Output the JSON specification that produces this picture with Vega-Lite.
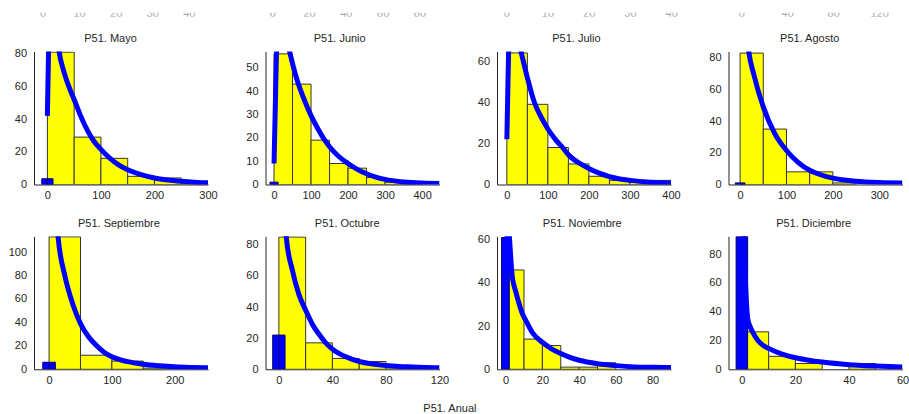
{
"$schema": "https://vega.github.io/schema/vega-lite/v6.json",
"background": "white",
"padding": {"left": 8, "top": 12.7, "right": 0, "bottom": 0},
"config": {
 "view": {"stroke": null},
 "font": "Liberation Sans",
 "axis": {"grid": false, "ticks": false, "tickSize": 0, "domainColor": "#262626", "domainWidth": 1, "labelColor": "#262626", "labelFont": "Liberation Sans", "labelFontSize": 11, "labelFlush": false, "labelOverlap": false},
 "axisX": {"labelPadding": 5.5},
 "axisY": {"labelPadding": 7.5},
 "title": {"font": "Liberation Sans", "fontSize": 11, "fontWeight": "normal", "color": "#262626", "frame": "group", "baseline": "alphabetic", "offset": 7}
},
"datasets": {
 "bars": [
  {"m":"Mayo","x0":0,"x1":50,"n":81},{"m":"Mayo","x0":50,"x1":100,"n":29},{"m":"Mayo","x0":100,"x1":150,"n":16},{"m":"Mayo","x0":150,"x1":200,"n":5},{"m":"Mayo","x0":200,"x1":250,"n":4},{"m":"Mayo","x0":250,"x1":300,"n":1},
  {"m":"Junio","x0":0,"x1":50,"n":56},{"m":"Junio","x0":50,"x1":100,"n":43},{"m":"Junio","x0":100,"x1":150,"n":19},{"m":"Junio","x0":150,"x1":200,"n":9},{"m":"Junio","x0":200,"x1":250,"n":7},{"m":"Junio","x0":250,"x1":300,"n":3},{"m":"Junio","x0":300,"x1":350,"n":1},{"m":"Junio","x0":350,"x1":400,"n":1},
  {"m":"Julio","x0":0,"x1":50,"n":64},{"m":"Julio","x0":50,"x1":100,"n":39},{"m":"Julio","x0":100,"x1":150,"n":18},{"m":"Julio","x0":150,"x1":200,"n":10},{"m":"Julio","x0":200,"x1":250,"n":4},{"m":"Julio","x0":250,"x1":300,"n":2},{"m":"Julio","x0":300,"x1":350,"n":1},{"m":"Julio","x0":350,"x1":400,"n":2},
  {"m":"Agosto","x0":0,"x1":50,"n":83},{"m":"Agosto","x0":50,"x1":100,"n":35},{"m":"Agosto","x0":100,"x1":150,"n":8},{"m":"Agosto","x0":150,"x1":200,"n":8},{"m":"Agosto","x0":200,"x1":250,"n":1},
  {"m":"Septiembre","x0":0,"x1":50,"n":113},{"m":"Septiembre","x0":50,"x1":100,"n":12},{"m":"Septiembre","x0":100,"x1":150,"n":7},{"m":"Septiembre","x0":150,"x1":200,"n":1},
  {"m":"Octubre","x0":0,"x1":20,"n":85},{"m":"Octubre","x0":20,"x1":40,"n":17},{"m":"Octubre","x0":40,"x1":60,"n":7},{"m":"Octubre","x0":60,"x1":80,"n":5},{"m":"Octubre","x0":80,"x1":100,"n":1},
  {"m":"Noviembre","x0":0,"x1":10,"n":46},{"m":"Noviembre","x0":10,"x1":20,"n":14},{"m":"Noviembre","x0":20,"x1":30,"n":11},{"m":"Noviembre","x0":30,"x1":40,"n":1},{"m":"Noviembre","x0":40,"x1":50,"n":1},{"m":"Noviembre","x0":50,"x1":60,"n":3},
  {"m":"Diciembre","x0":0,"x1":10,"n":26},{"m":"Diciembre","x0":10,"x1":20,"n":9},{"m":"Diciembre","x0":20,"x1":30,"n":4},{"m":"Diciembre","x0":40,"x1":50,"n":4}
 ],
 "zeros": [
  {"m":"Mayo","x0":-10.5,"x1":10.5,"xc":0,"n":3.5},
  {"m":"Junio","x0":-11,"x1":11,"xc":0,"n":1},
  {"m":"Agosto","x0":-10.5,"x1":10.5,"xc":0,"n":1},
  {"m":"Septiembre","x0":-10,"x1":10,"xc":0,"n":6},
  {"m":"Octubre","x0":-4.6,"x1":4.6,"xc":0,"n":22},
  {"m":"Noviembre","x0":-2.2,"x1":2,"xc":0,"n":61},
  {"m":"Diciembre","x0":-2.15,"x1":2.15,"xc":0,"n":92}
 ],
 "curve": [
  {"m":"Mayo","x0":0,"n":42},{"m":"Mayo","x0":1.5,"n":70},{"m":"Mayo","x0":3,"n":95},{"m":"Mayo","x0":6,"n":110},{"m":"Mayo","x0":12,"n":108},{"m":"Mayo","x0":18,"n":92},{"m":"Mayo","x0":22,"n":81},{"m":"Mayo","x0":30,"n":70},{"m":"Mayo","x0":40,"n":60},{"m":"Mayo","x0":50,"n":52},{"m":"Mayo","x0":62,"n":42},{"m":"Mayo","x0":75,"n":33},{"m":"Mayo","x0":87,"n":26.5},{"m":"Mayo","x0":100,"n":21.5},{"m":"Mayo","x0":117,"n":16},{"m":"Mayo","x0":133,"n":12},{"m":"Mayo","x0":150,"n":9},{"m":"Mayo","x0":175,"n":6},{"m":"Mayo","x0":200,"n":4},{"m":"Mayo","x0":225,"n":2.8},{"m":"Mayo","x0":250,"n":2},{"m":"Mayo","x0":275,"n":1.4},{"m":"Mayo","x0":300,"n":1},
  {"m":"Junio","x0":0,"n":9},{"m":"Junio","x0":3,"n":30},{"m":"Junio","x0":6,"n":52},{"m":"Junio","x0":9,"n":66},{"m":"Junio","x0":15,"n":75},{"m":"Junio","x0":25,"n":72},{"m":"Junio","x0":35,"n":62},{"m":"Junio","x0":42,"n":57},{"m":"Junio","x0":60,"n":46},{"m":"Junio","x0":80,"n":37},{"m":"Junio","x0":100,"n":29.5},{"m":"Junio","x0":120,"n":23.5},{"m":"Junio","x0":137,"n":19},{"m":"Junio","x0":150,"n":16.2},{"m":"Junio","x0":175,"n":12},{"m":"Junio","x0":200,"n":9},{"m":"Junio","x0":225,"n":6.5},{"m":"Junio","x0":250,"n":4.6},{"m":"Junio","x0":275,"n":3.2},{"m":"Junio","x0":300,"n":2.2},{"m":"Junio","x0":350,"n":1.1},{"m":"Junio","x0":400,"n":0.6},{"m":"Junio","x0":447,"n":0.4},
  {"m":"Julio","x0":0,"n":22},{"m":"Julio","x0":2,"n":42},{"m":"Julio","x0":4,"n":62},{"m":"Julio","x0":8,"n":75},{"m":"Julio","x0":15,"n":78},{"m":"Julio","x0":25,"n":72},{"m":"Julio","x0":34,"n":65},{"m":"Julio","x0":50,"n":52},{"m":"Julio","x0":67,"n":40},{"m":"Julio","x0":83,"n":33},{"m":"Julio","x0":100,"n":27},{"m":"Julio","x0":120,"n":21.5},{"m":"Julio","x0":136,"n":18},{"m":"Julio","x0":150,"n":14.5},{"m":"Julio","x0":180,"n":10},{"m":"Julio","x0":200,"n":7.8},{"m":"Julio","x0":225,"n":5.5},{"m":"Julio","x0":250,"n":3.8},{"m":"Julio","x0":275,"n":2.7},{"m":"Julio","x0":300,"n":2},{"m":"Julio","x0":350,"n":1.1},{"m":"Julio","x0":400,"n":0.7},
  {"m":"Agosto","x0":10,"n":110},{"m":"Agosto","x0":18.7,"n":84},{"m":"Agosto","x0":30,"n":69},{"m":"Agosto","x0":50,"n":49},{"m":"Agosto","x0":75,"n":32},{"m":"Agosto","x0":100,"n":21.5},{"m":"Agosto","x0":125,"n":14},{"m":"Agosto","x0":150,"n":9},{"m":"Agosto","x0":175,"n":6},{"m":"Agosto","x0":200,"n":4},{"m":"Agosto","x0":250,"n":2.1},{"m":"Agosto","x0":300,"n":1.3},{"m":"Agosto","x0":350,"n":1},
  {"m":"Septiembre","x0":8,"n":160},{"m":"Septiembre","x0":14.3,"n":113},{"m":"Septiembre","x0":25,"n":80},{"m":"Septiembre","x0":37.5,"n":56},{"m":"Septiembre","x0":50,"n":39},{"m":"Septiembre","x0":62.5,"n":28},{"m":"Septiembre","x0":75,"n":20.5},{"m":"Septiembre","x0":87.5,"n":14.5},{"m":"Septiembre","x0":100,"n":10.6},{"m":"Septiembre","x0":125,"n":6.5},{"m":"Septiembre","x0":150,"n":4.3},{"m":"Septiembre","x0":175,"n":3},{"m":"Septiembre","x0":200,"n":2.1},{"m":"Septiembre","x0":225,"n":1.6},{"m":"Septiembre","x0":253,"n":1.3},
  {"m":"Octubre","x0":3,"n":130},{"m":"Octubre","x0":5.5,"n":85},{"m":"Octubre","x0":10,"n":64},{"m":"Octubre","x0":15,"n":48},{"m":"Octubre","x0":20,"n":38},{"m":"Octubre","x0":25,"n":29},{"m":"Octubre","x0":30,"n":22.5},{"m":"Octubre","x0":35,"n":17},{"m":"Octubre","x0":40,"n":13},{"m":"Octubre","x0":50,"n":8},{"m":"Octubre","x0":60,"n":5},{"m":"Octubre","x0":70,"n":3.4},{"m":"Octubre","x0":80,"n":2.4},{"m":"Octubre","x0":90,"n":1.8},{"m":"Octubre","x0":100,"n":1.5},{"m":"Octubre","x0":110,"n":1.2},{"m":"Octubre","x0":120,"n":1},
  {"m":"Noviembre","x0":0.5,"n":45},{"m":"Noviembre","x0":1.2,"n":72},{"m":"Noviembre","x0":2,"n":62},{"m":"Noviembre","x0":3.6,"n":43},{"m":"Noviembre","x0":5.5,"n":36},{"m":"Noviembre","x0":7.3,"n":30.5},{"m":"Noviembre","x0":9,"n":26},{"m":"Noviembre","x0":10.9,"n":22.8},{"m":"Noviembre","x0":15,"n":16.5},{"m":"Noviembre","x0":20,"n":12.5},{"m":"Noviembre","x0":25,"n":9.5},{"m":"Noviembre","x0":30,"n":7.3},{"m":"Noviembre","x0":35,"n":5.5},{"m":"Noviembre","x0":40,"n":4.2},{"m":"Noviembre","x0":50,"n":2.6},{"m":"Noviembre","x0":60,"n":1.7},{"m":"Noviembre","x0":70,"n":1.1},{"m":"Noviembre","x0":80,"n":0.9},{"m":"Noviembre","x0":90,"n":0.8},
  {"m":"Diciembre","x0":0.3,"n":150},{"m":"Diciembre","x0":1,"n":80},{"m":"Diciembre","x0":1.6,"n":50},{"m":"Diciembre","x0":2.2,"n":35},{"m":"Diciembre","x0":3,"n":30},{"m":"Diciembre","x0":4,"n":26},{"m":"Diciembre","x0":6,"n":20},{"m":"Diciembre","x0":8,"n":16.5},{"m":"Diciembre","x0":10,"n":14.5},{"m":"Diciembre","x0":15,"n":10.5},{"m":"Diciembre","x0":20,"n":8},{"m":"Diciembre","x0":25,"n":6.3},{"m":"Diciembre","x0":30,"n":5},{"m":"Diciembre","x0":40,"n":3.2},{"m":"Diciembre","x0":50,"n":2.2},{"m":"Diciembre","x0":60,"n":1.5}
 ],
 "top": [
  {"c":1,"v":0},{"c":1,"v":10},{"c":1,"v":20},{"c":1,"v":30},{"c":1,"v":40},
  {"c":2,"v":0},{"c":2,"v":20},{"c":2,"v":40},{"c":2,"v":60},{"c":2,"v":80},
  {"c":3,"v":0},{"c":3,"v":10},{"c":3,"v":20},{"c":3,"v":30},{"c":3,"v":40},
  {"c":4,"v":0},{"c":4,"v":40},{"c":4,"v":80},{"c":4,"v":120}
 ]
},
"spacing": 15.8,
"vconcat": [
 {"hconcat": [
  {"width": 185, "height": 4, "data": {"name": "top"}, "transform": [{"filter": "datum.c == 1"}], "mark": {"type": "text", "clip": true, "baseline": "alphabetic", "fontSize": 11, "font": "Liberation Sans", "color": "#aaaaaa"}, "encoding": {"x": {"field": "v", "type": "quantitative", "scale": {"domain": [-2.46, 48.1], "nice": false, "zero": false}, "axis": null}, "y": {"datum": 0, "type": "quantitative", "scale": {"domain": [0, 1]}, "axis": null}, "text": {"field": "v", "type": "quantitative"}}},
  {"width": 185, "height": 4, "data": {"name": "top"}, "transform": [{"filter": "datum.c == 2"}], "mark": {"type": "text", "clip": true, "baseline": "alphabetic", "fontSize": 11, "font": "Liberation Sans", "color": "#aaaaaa"}, "encoding": {"x": {"field": "v", "type": "quantitative", "scale": {"domain": [-3.9, 96.6], "nice": false, "zero": false}, "axis": null}, "y": {"datum": 0, "type": "quantitative", "scale": {"domain": [0, 1]}, "axis": null}, "text": {"field": "v", "type": "quantitative"}}},
  {"width": 185, "height": 4, "data": {"name": "top"}, "transform": [{"filter": "datum.c == 3"}], "mark": {"type": "text", "clip": true, "baseline": "alphabetic", "fontSize": 11, "font": "Liberation Sans", "color": "#aaaaaa"}, "encoding": {"x": {"field": "v", "type": "quantitative", "scale": {"domain": [-2.35, 42.5], "nice": false, "zero": false}, "axis": null}, "y": {"datum": 0, "type": "quantitative", "scale": {"domain": [0, 1]}, "axis": null}, "text": {"field": "v", "type": "quantitative"}}},
  {"width": 174, "height": 4, "data": {"name": "top"}, "transform": [{"filter": "datum.c == 4"}], "mark": {"type": "text", "clip": true, "baseline": "alphabetic", "fontSize": 11, "font": "Liberation Sans", "color": "#aaaaaa"}, "encoding": {"x": {"field": "v", "type": "quantitative", "scale": {"domain": [-11.5, 139.8], "nice": false, "zero": false}, "axis": null}, "y": {"datum": 0, "type": "quantitative", "scale": {"domain": [0, 1]}, "axis": null}, "text": {"field": "v", "type": "quantitative"}}}
 ], "spacing": 46.5, "bounds": "flush"},
 {"vconcat": [
  {"hconcat": [
   {"width": 174, "height": 133, "title": {"text": "P51. Mayo", "dx": -10.5, "offset": 3.8},
    "encoding": {"x": {"field": "x0", "type": "quantitative", "scale": {"domain": [-25, 300], "nice": false, "zero": false}, "axis": {"values": [0,100,200,300], "title": null}}, "y": {"field": "n", "type": "quantitative", "scale": {"domain": [0, 81.4], "nice": false, "zero": false}, "axis": {"values": [0,20,40,60,80], "title": null}}},
    "layer": [
     {"data": {"name": "bars"}, "transform": [{"filter": "datum.m == 'Mayo'"}], "mark": {"type": "rect", "fill": "#ffff00", "stroke": "#333333", "strokeWidth": 1, "clip": true}, "encoding": {"x2": {"field": "x1"}, "y2": {"datum": 0}}},
     {"data": {"name": "zeros"}, "transform": [{"filter": "datum.m == 'Mayo'"}], "mark": {"type": "rect", "fill": "#0000ff", "stroke": "#00006a", "strokeWidth": 1, "clip": true}, "encoding": {"x2": {"field": "x1"}, "y2": {"datum": 0}}},
     {"data": {"name": "zeros"}, "transform": [{"filter": "datum.m == 'Mayo'"}], "mark": {"type": "rule", "color": "#00006a", "clip": true}, "encoding": {"x": {"field": "xc", "type": "quantitative", "axis": {"values": [0,100,200,300], "title": null}}, "y2": {"datum": 0}}},
     {"data": {"name": "curve"}, "transform": [{"filter": "datum.m == 'Mayo'"}], "mark": {"type": "line", "color": "#0000ff", "strokeWidth": 5, "interpolate": "monotone", "clip": true}, "encoding": {}}
    ]},
   {"width": 174, "height": 133, "title": {"text": "P51. Junio", "dx": -12.8},
    "encoding": {"x": {"field": "x0", "type": "quantitative", "scale": {"domain": [-23, 447], "nice": false, "zero": false}, "axis": {"values": [0,100,200,300,400], "title": null}}, "y": {"field": "n", "type": "quantitative", "scale": {"domain": [0, 57], "nice": false, "zero": false}, "axis": {"values": [0,10,20,30,40,50], "title": null}}},
    "layer": [
     {"data": {"name": "bars"}, "transform": [{"filter": "datum.m == 'Junio'"}], "mark": {"type": "rect", "fill": "#ffff00", "stroke": "#333333", "strokeWidth": 1, "clip": true}, "encoding": {"x2": {"field": "x1"}, "y2": {"datum": 0}}},
     {"data": {"name": "zeros"}, "transform": [{"filter": "datum.m == 'Junio'"}], "mark": {"type": "rect", "fill": "#0000ff", "stroke": "#00006a", "strokeWidth": 1, "clip": true}, "encoding": {"x2": {"field": "x1"}, "y2": {"datum": 0}}},
     {"data": {"name": "curve"}, "transform": [{"filter": "datum.m == 'Junio'"}], "mark": {"type": "line", "color": "#0000ff", "strokeWidth": 5, "interpolate": "monotone", "clip": true}, "encoding": {}}
    ]},
   {"width": 174, "height": 133, "title": {"text": "P51. Julio", "dx": -7.6},
    "encoding": {"x": {"field": "x0", "type": "quantitative", "scale": {"domain": [-24, 400], "nice": false, "zero": false}, "axis": {"values": [0,100,200,300,400], "title": null}}, "y": {"field": "n", "type": "quantitative", "scale": {"domain": [0, 64.7], "nice": false, "zero": false}, "axis": {"values": [0,20,40,60], "title": null}}},
    "layer": [
     {"data": {"name": "bars"}, "transform": [{"filter": "datum.m == 'Julio'"}], "mark": {"type": "rect", "fill": "#ffff00", "stroke": "#333333", "strokeWidth": 1, "clip": true}, "encoding": {"x2": {"field": "x1"}, "y2": {"datum": 0}}},
     {"data": {"name": "curve"}, "transform": [{"filter": "datum.m == 'Julio'"}], "mark": {"type": "line", "color": "#0000ff", "strokeWidth": 5, "interpolate": "monotone", "clip": true}, "encoding": {}}
    ]},
   {"width": 174, "height": 133, "title": {"text": "P51. Agosto", "dx": -5.8},
    "encoding": {"x": {"field": "x0", "type": "quantitative", "scale": {"domain": [-25, 350], "nice": false, "zero": false}, "axis": {"values": [0,100,200,300], "title": null}}, "y": {"field": "n", "type": "quantitative", "scale": {"domain": [0, 84], "nice": false, "zero": false}, "axis": {"values": [0,20,40,60,80], "title": null}}},
    "layer": [
     {"data": {"name": "bars"}, "transform": [{"filter": "datum.m == 'Agosto'"}], "mark": {"type": "rect", "fill": "#ffff00", "stroke": "#333333", "strokeWidth": 1, "clip": true}, "encoding": {"x2": {"field": "x1"}, "y2": {"datum": 0}}},
     {"data": {"name": "zeros"}, "transform": [{"filter": "datum.m == 'Agosto'"}], "mark": {"type": "rect", "fill": "#0000ff", "stroke": "#00006a", "strokeWidth": 1, "clip": true}, "encoding": {"x2": {"field": "x1"}, "y2": {"datum": 0}}},
     {"data": {"name": "curve"}, "transform": [{"filter": "datum.m == 'Agosto'"}], "mark": {"type": "line", "color": "#0000ff", "strokeWidth": 5, "interpolate": "monotone", "clip": true}, "encoding": {}}
    ]}
  ], "spacing": 57.5, "bounds": "flush"},
  {"hconcat": [
   {"width": 174, "height": 133, "title": {"text": "P51. Septiembre", "dx": -2.1},
    "encoding": {"x": {"field": "x0", "type": "quantitative", "scale": {"domain": [-24, 253], "nice": false, "zero": false}, "axis": {"values": [0,100,200], "title": null}}, "y": {"field": "n", "type": "quantitative", "scale": {"domain": [0, 113.5], "nice": false, "zero": false}, "axis": {"values": [0,20,40,60,80,100], "title": null}}},
    "layer": [
     {"data": {"name": "bars"}, "transform": [{"filter": "datum.m == 'Septiembre'"}], "mark": {"type": "rect", "fill": "#ffff00", "stroke": "#333333", "strokeWidth": 1, "clip": true}, "encoding": {"x2": {"field": "x1"}, "y2": {"datum": 0}}},
     {"data": {"name": "zeros"}, "transform": [{"filter": "datum.m == 'Septiembre'"}], "mark": {"type": "rect", "fill": "#0000ff", "stroke": "#00006a", "strokeWidth": 1, "clip": true}, "encoding": {"x2": {"field": "x1"}, "y2": {"datum": 0}}},
     {"data": {"name": "zeros"}, "transform": [{"filter": "datum.m == 'Septiembre'"}], "mark": {"type": "rule", "color": "#00006a", "clip": true}, "encoding": {"x": {"field": "xc", "type": "quantitative", "axis": {"values": [0,100,200], "title": null}}, "y2": {"datum": 0}}},
     {"data": {"name": "curve"}, "transform": [{"filter": "datum.m == 'Septiembre'"}], "mark": {"type": "line", "color": "#0000ff", "strokeWidth": 5, "interpolate": "monotone", "clip": true}, "encoding": {}}
    ]},
   {"width": 174, "height": 133, "title": {"text": "P51. Octubre", "dx": -5.3},
    "encoding": {"x": {"field": "x0", "type": "quantitative", "scale": {"domain": [-10, 120], "nice": false, "zero": false}, "axis": {"values": [0,40,80,120], "title": null}}, "y": {"field": "n", "type": "quantitative", "scale": {"domain": [0, 85.5], "nice": false, "zero": false}, "axis": {"values": [0,20,40,60,80], "title": null}}},
    "layer": [
     {"data": {"name": "bars"}, "transform": [{"filter": "datum.m == 'Octubre'"}], "mark": {"type": "rect", "fill": "#ffff00", "stroke": "#333333", "strokeWidth": 1, "clip": true}, "encoding": {"x2": {"field": "x1"}, "y2": {"datum": 0}}},
     {"data": {"name": "zeros"}, "transform": [{"filter": "datum.m == 'Octubre'"}], "mark": {"type": "rect", "fill": "#0000ff", "stroke": "#00006a", "strokeWidth": 1, "clip": true}, "encoding": {"x2": {"field": "x1"}, "y2": {"datum": 0}}},
     {"data": {"name": "zeros"}, "transform": [{"filter": "datum.m == 'Octubre'"}], "mark": {"type": "rule", "color": "#00006a", "clip": true}, "encoding": {"x": {"field": "xc", "type": "quantitative", "axis": {"values": [0,40,80,120], "title": null}}, "y2": {"datum": 0}}},
     {"data": {"name": "curve"}, "transform": [{"filter": "datum.m == 'Octubre'"}], "mark": {"type": "line", "color": "#0000ff", "strokeWidth": 5, "interpolate": "monotone", "clip": true}, "encoding": {}}
    ]},
   {"width": 174, "height": 133, "title": {"text": "P51. Noviembre", "dx": -1.8, "offset": 5},
    "encoding": {"x": {"field": "x0", "type": "quantitative", "scale": {"domain": [-4.7, 90], "nice": false, "zero": false}, "axis": {"values": [0,20,40,60,80], "title": null}}, "y": {"field": "n", "type": "quantitative", "scale": {"domain": [0, 61.6], "nice": false, "zero": false}, "axis": {"values": [0,20,40,60], "title": null}}},
    "layer": [
     {"data": {"name": "bars"}, "transform": [{"filter": "datum.m == 'Noviembre'"}], "mark": {"type": "rect", "fill": "#ffff00", "stroke": "#333333", "strokeWidth": 1, "clip": true}, "encoding": {"x2": {"field": "x1"}, "y2": {"datum": 0}}},
     {"data": {"name": "zeros"}, "transform": [{"filter": "datum.m == 'Noviembre'"}], "mark": {"type": "rect", "fill": "#0000ff", "stroke": "#00006a", "strokeWidth": 1, "clip": true}, "encoding": {"x2": {"field": "x1"}, "y2": {"datum": 0}}},
     {"data": {"name": "curve"}, "transform": [{"filter": "datum.m == 'Noviembre'"}], "mark": {"type": "line", "color": "#0000ff", "strokeWidth": 5, "interpolate": "monotone", "clip": true}, "encoding": {}}
    ]},
   {"width": 174, "height": 133, "title": {"text": "P51. Diciembre", "dx": -1.8},
    "encoding": {"x": {"field": "x0", "type": "quantitative", "scale": {"domain": [-5, 60], "nice": false, "zero": false}, "axis": {"values": [0,20,40,60], "title": null}}, "y": {"field": "n", "type": "quantitative", "scale": {"domain": [0, 92.3], "nice": false, "zero": false}, "axis": {"values": [0,20,40,60,80], "title": null}}},
    "layer": [
     {"data": {"name": "bars"}, "transform": [{"filter": "datum.m == 'Diciembre'"}], "mark": {"type": "rect", "fill": "#ffff00", "stroke": "#333333", "strokeWidth": 1, "clip": true}, "encoding": {"x2": {"field": "x1"}, "y2": {"datum": 0}}},
     {"data": {"name": "zeros"}, "transform": [{"filter": "datum.m == 'Diciembre'"}], "mark": {"type": "rect", "fill": "#0000ff", "stroke": "#00006a", "strokeWidth": 1, "clip": true}, "encoding": {"x2": {"field": "x1"}, "y2": {"datum": 0}}},
     {"data": {"name": "curve"}, "transform": [{"filter": "datum.m == 'Diciembre'"}], "mark": {"type": "line", "color": "#0000ff", "strokeWidth": 5, "interpolate": "monotone", "clip": true}, "encoding": {}}
    ]}
  ], "spacing": 57.5, "bounds": "flush"}
 ], "spacing": 15.8,
 "title": {"text": "P51. Anual", "orient": "bottom", "anchor": "middle", "frame": "bounds", "baseline": "alphabetic", "offset": 26.5, "dx": -8.5}}
]
}
